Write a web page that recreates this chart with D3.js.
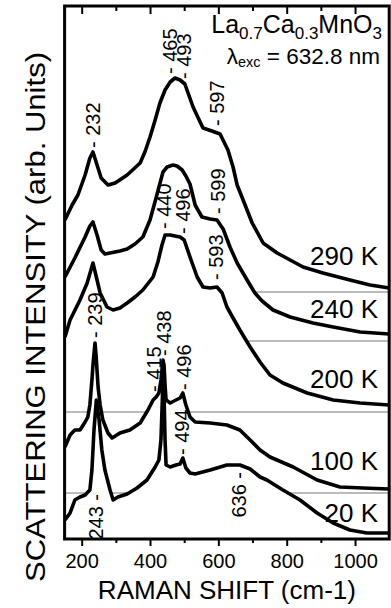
<!DOCTYPE html>
<html>
<head>
<meta charset="utf-8">
<script src="https://cdn.jsdelivr.net/npm/d3@7"></script>
<style>
  body { margin: 0; background: #fff; }
  text { font-family: "Liberation Sans", Arial, sans-serif; fill: #000; }
</style>
</head>
<body>
<svg id="chart" width="391" height="608"></svg>
<script>
// spectra, [raman shift (cm-1), intensity (arb. units, offset included)]
const spec290 = [[151,319],[172,334],[189,344],[210,364],[224,381],[233,387],[245,374],[257,361],[277,354],[298,356],[333,364],[371,376],[385,387],[400,402],[415,419],[429,436],[444,449],[459,457],[473,461],[488,459],[502,455],[526,432],[555,411],[581,408],[605,405],[628,389],[643,372],[655,354],[669,342],[699,316],[731,296],[772,286],[810,279],[848,272],[906,266],[985,259],[1044,254],[1100,251]];
const spec240 = [[151,262],[180,281],[210,302],[224,313],[233,317],[245,304],[257,289],[268,285],[283,286],[312,288],[333,290],[356,295],[379,302],[400,319],[420,344],[438,367],[450,372],[467,374],[479,373],[494,369],[505,363],[517,355],[532,334],[552,322],[576,320],[596,319],[614,310],[634,292],[655,276],[684,259],[707,246],[728,238],[760,229],[810,222],[877,216],[936,212],[1015,207],[1100,205]];
const spec200 = [[151,202],[166,219],[195,239],[216,256],[233,276],[245,259],[254,246],[274,232],[292,229],[312,231],[333,236],[356,242],[379,249],[409,262],[423,277],[435,294],[444,304],[459,304],[473,303],[488,302],[500,299],[517,282],[538,262],[555,252],[576,251],[596,252],[611,246],[625,232],[643,221],[663,209],[693,192],[722,177],[751,164],[789,156],[860,146],[936,139],[1015,136],[1100,134]];
const spec100 = [[151,92],[166,104],[180,109],[195,109],[210,117],[218,122],[224,134],[230,159],[233,174],[239,196],[242,184],[248,152],[254,134],[262,119],[277,106],[289,101],[312,106],[341,109],[371,116],[394,129],[409,139],[418,142],[426,146],[432,159],[438,179],[441,174],[444,154],[447,139],[459,136],[476,139],[488,141],[496,146],[505,134],[517,122],[532,117],[576,116],[625,114],[663,109],[693,99],[722,89],[751,82],[819,72],[889,59],[956,52],[1023,51],[1100,50]];
const spec20 = [[151,19],[166,26],[180,39],[195,42],[210,44],[224,49],[230,69],[236,109],[243,139],[251,119],[259,89],[268,69],[283,49],[292,39],[306,42],[333,45],[362,51],[391,59],[415,72],[426,79],[432,99],[435,129],[438,159],[441,144],[444,99],[447,74],[459,72],[476,74],[488,75],[496,81],[505,71],[517,66],[532,65],[576,69],[625,74],[663,74],[693,70],[722,62],[742,59],[789,49],[839,39],[889,26],[936,16],[985,9],[1035,6],[1100,6]];

const spectra = [spec290, spec240, spec200, spec100, spec20];
const temps = ["290 K", "240 K", "200 K", "100 K", "20 K"];
const tempLevels = [274, 221, 151, 69, 17];   // where each temperature label sits
const baselines = [247, 198, 127, 46, null];  // zero line of each spectrum

// peak marks: text, position (cm-1), level, above/below the curve
const peakText = ["232","465","493","597","599","440","496","593","239","415","438","496","243","494","636"];
const peakAt   = [232, 458, 500, 595, 599, 440, 497, 593, 239, 413, 440, 498, 243, 494, 660];
const peakLvl  = [391, 465, 460, 413, 325, 310, 305, 259, 201, 147, 183, 149, 45, 84, 67];
const peakUp   = [1,1,1,1,1,1,1,1,1,1,1,1,0,1,0];

const xMajor = [200, 400, 600, 800, 1000];
const xMinor = [300, 500, 700, 900];

const svg = d3.select("#chart");
const pLeft = 64.6, pRight = 389.2, pTop = 6, pBottom = 539;

const x = d3.scaleLinear().domain([150, 1100]).range([pLeft, pRight]);
const y = d3.scaleLinear().domain([0, 533]).range([pBottom, pTop]);

const line = d3.line().x(d => x(d[0])).y(d => y(d[1]));
const area = d3.area().x(d => x(d[0])).y0(pBottom).y1(d => y(d[1]));

// draw top spectrum first, each one hides what lies under it
spectra.forEach(function(s, i) {
  svg.append("path").datum(s).attr("d", area).attr("fill", "#fff");
  svg.append("path").datum(s).attr("d", line)
    .attr("fill", "none").attr("stroke", "#000")
    .attr("stroke-width", 3.6).attr("stroke-linejoin", "round");
  if (baselines[i] != null) {
    svg.append("line")
      .attr("x1", pLeft).attr("x2", pRight)
      .attr("y1", y(baselines[i])).attr("y2", y(baselines[i]))
      .attr("stroke", "#777").attr("stroke-width", 1);
  }
});

// axes
const gb = svg.append("g").attr("transform", "translate(0," + pBottom + ")");
gb.call(d3.axisBottom(x).tickValues(xMajor).tickSize(7).tickPadding(8).tickFormat(d3.format("d")));
gb.append("g").call(d3.axisBottom(x).tickValues(xMinor).tickSize(4).tickFormat(""));
const gt = svg.append("g").attr("transform", "translate(0," + pTop + ")");
gt.call(d3.axisBottom(x).tickValues(xMajor).tickSize(8).tickFormat(""));
gt.append("g").call(d3.axisBottom(x).tickValues(xMinor).tickSize(5).tickFormat(""));
svg.selectAll(".domain").remove();
svg.selectAll(".tick line").attr("stroke", "#000").attr("stroke-width", 2);
gb.selectAll(".tick text")
  .style("font-family", '"Liberation Sans", Arial, sans-serif')
  .style("font-size", "20px").attr("fill", "#000");

svg.append("rect")
  .attr("x", pLeft).attr("y", pTop)
  .attr("width", pRight - pLeft).attr("height", pBottom - pTop)
  .attr("fill", "none").attr("stroke", "#000").attr("stroke-width", 3);

// peak labels
peakText.forEach(function(t, i) {
  svg.append("text")
    .attr("transform", "translate(" + x(peakAt[i]) + "," + y(peakLvl[i]) + ") rotate(-90)")
    .attr("dy", "0.35em")
    .attr("text-anchor", peakUp[i] ? "start" : "end")
    .style("font-size", "20px")
    .text(peakUp[i] ? "- " + t : t + " -");
});

// temperatures
temps.forEach(function(t, i) {
  svg.append("text")
    .attr("x", 378).attr("y", y(tempLevels[i]))
    .attr("text-anchor", "end")
    .style("font-size", "26px")
    .text(t);
});

// compound and excitation
const f = svg.append("text").attr("x", 382).attr("y", 33)
  .attr("text-anchor", "end").style("font-size", "25px");
f.append("tspan").text("La");
f.append("tspan").attr("dy", 6).style("font-size", "17px").text("0.7");
f.append("tspan").attr("dy", -6).text("Ca");
f.append("tspan").attr("dy", 6).style("font-size", "17px").text("0.3");
f.append("tspan").attr("dy", -6).text("MnO");
f.append("tspan").attr("dy", 6).style("font-size", "17px").text("3");

const l = svg.append("text").attr("x", 380).attr("y", 64)
  .attr("text-anchor", "end").style("font-size", "22.5px");
l.append("tspan").text("λ");
l.append("tspan").attr("dy", 3).style("font-size", "14.5px").text("exc");
l.append("tspan").attr("dy", -3).text(" = 632.8 nm");

// axis titles
svg.append("text")
  .attr("x", (pLeft + pRight) / 2).attr("y", 599)
  .attr("text-anchor", "middle").style("font-size", "26px")
  .text("RAMAN SHIFT (cm-1)");

svg.append("text")
  .attr("transform", "translate(45,317) rotate(-90)")
  .attr("text-anchor", "middle").style("font-size", "27px")
  .attr("textLength", 530).attr("lengthAdjust", "spacingAndGlyphs")
  .text("SCATTERING INTENSITY (arb. Units)");
</script>
</body>
</html>
